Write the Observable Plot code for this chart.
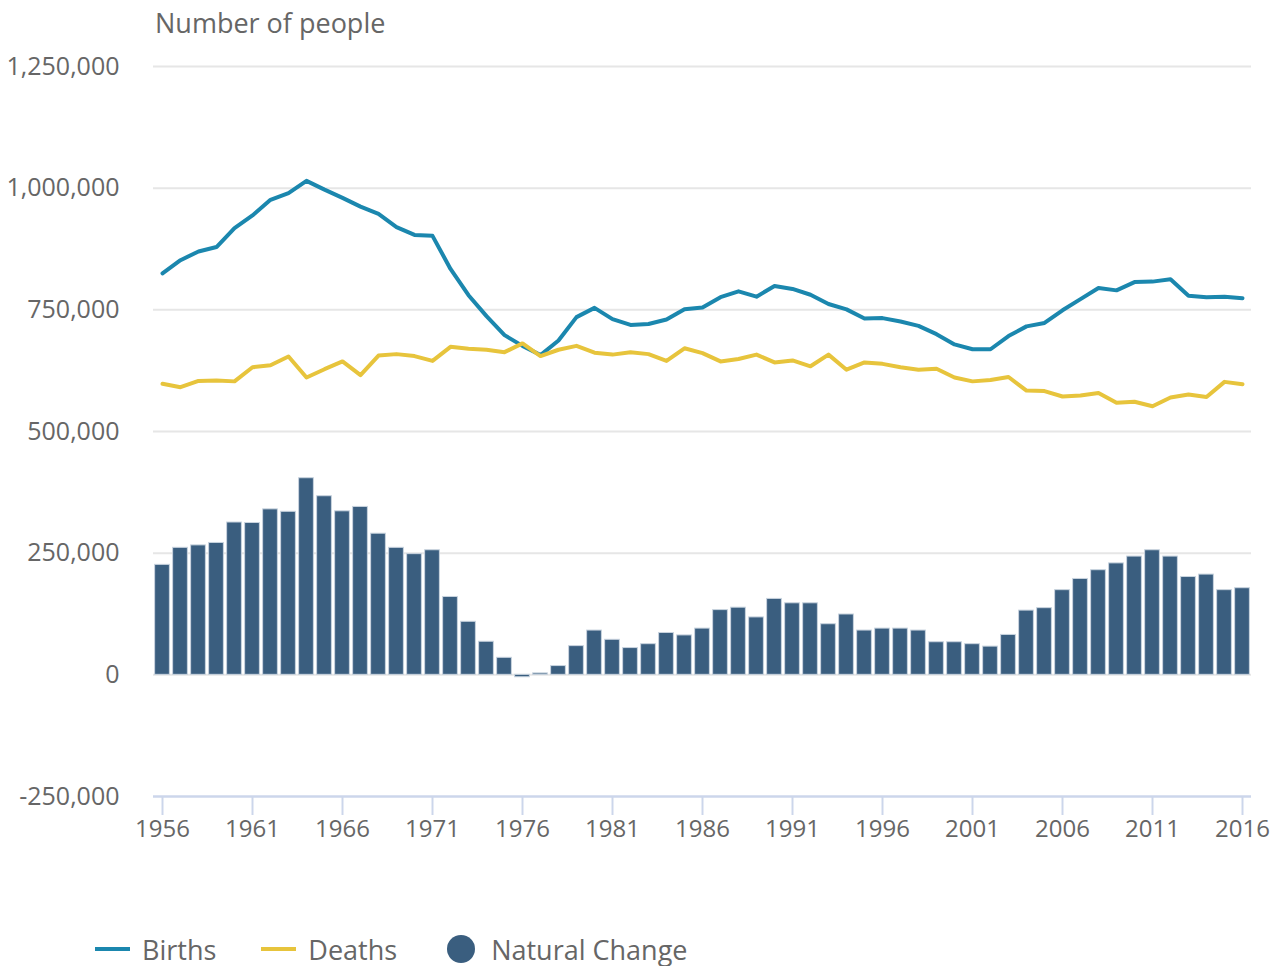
<!DOCTYPE html>
<html>
<head>
<meta charset="utf-8">
<script src="https://cdn.jsdelivr.net/npm/d3@7"></script>
<script src="https://cdn.jsdelivr.net/npm/@observablehq/plot@0.6"></script>
<style>
  html, body { margin: 0; padding: 0; background: #fff; }
  body { font-family: "Open Sans", sans-serif; color: #666; }
  #wrap { position: relative; width: 1275px; height: 966px; overflow: hidden; }
  #title { position: absolute; left: 155px; top: 4px; font-size: 27px; color: #666; line-height: 38px; }
  #legend { position: absolute; left: 95px; top: 929px; height: 40px; display: flex; align-items: center; font-size: 27px; color: #666; }
  .item { display: flex; align-items: center; }
  .sw { width: 35px; height: 4px; margin-right: 12px; }
  .dot { width: 28px; height: 28px; border-radius: 50%; margin-right: 16px; }
</style>
</head>
<body>
<div id="wrap">
  <div id="chart"></div>
  <div id="title">Number of people</div>
  <div id="legend"></div>
</div>
<script>
const years = [1956,1957,1958,1959,1960,1961,1962,1963,1964,1965,1966,1967,1968,1969,1970,
  1971,1972,1973,1974,1975,1976,1977,1978,1979,1980,1981,1982,1983,1984,1985,
  1986,1987,1988,1989,1990,1991,1992,1993,1994,1995,1996,1997,1998,1999,2000,
  2001,2002,2003,2004,2005,2006,2007,2008,2009,2010,2011,2012,2013,2014,2015,2016];

const births = [825000,852000,870000,879000,918000,944000,976000,990000,1015000,997000,980000,962000,947000,920000,904000,
  902000,834000,780000,737000,698000,676000,657000,687000,735000,754000,731000,719000,721000,730000,751000,
  755000,776000,788000,777000,799000,793000,781000,762000,751000,732000,733000,726000,717000,700000,679000,
  669000,669000,696000,716000,723000,749000,772000,795000,790000,807000,808000,813000,779000,776000,777000,774000];

const deaths = [598000,591000,604000,605000,603000,632000,636000,654000,611000,628000,644000,616000,656000,659000,655000,
  645000,674000,670000,668000,663000,681000,655000,668000,676000,662000,658000,663000,659000,645000,671000,
  661000,644000,649000,658000,642000,646000,634000,658000,627000,642000,639000,632000,627000,629000,611000,
  603000,606000,612000,584000,583000,572000,574000,579000,559000,561000,552000,570000,576000,571000,602000,597000];

const naturalChange = [226000,261000,266000,271000,313000,312000,340000,335000,404000,367000,336000,345000,290000,261000,248000,
  256000,160000,109000,68000,35000,-5000,3000,18000,59000,91000,72000,55000,63000,86000,81000,
  95000,133000,138000,118000,156000,147000,147000,104000,124000,91000,95000,95000,91000,67000,67000,
  63000,58000,82000,132000,137000,174000,197000,215000,229000,243000,256000,243000,201000,206000,174000,178000];

const xTicks = [1956,1961,1966,1971,1976,1981,1986,1991,1996,2001,2006,2011,2016];
const yTicks = [-250000,0,250000,500000,750000,1000000,1250000];

const seriesNames = ["Births", "Deaths", "Natural Change"];
const seriesColors = ["#1b87ae", "#e7c43c", "#3a5e7f"];

const data = years.map((year, i) => ({year, births: births[i], deaths: deaths[i], natural: naturalChange[i]}));

const fmt = d => (d < 0 ? "-" : "") + Math.abs(d).toLocaleString("en-US");

const chart = Plot.plot({
  width: 1275,
  height: 930,
  marginLeft: 153,
  marginRight: 24,
  marginTop: 66,
  marginBottom: 134,
  style: {fontFamily: "Open Sans, sans-serif", fontSize: "24px", color: "#666", background: "transparent", overflow: "visible"},
  x: {domain: [1955.5, 2016.5]},
  y: {domain: [-250000, 1250000]},
  marks: [
    Plot.gridY(yTicks.filter(t => t > -250000), {stroke: "#e6e6e6", strokeOpacity: 1, strokeWidth: 2}),
    Plot.axisY(yTicks, {tickSize: 0, tickPadding: 34, tickFormat: fmt, fill: "#666", fontSize: 25, label: null}),
    Plot.ruleY([-250000], {stroke: "#ccd6eb", strokeWidth: 2.5}),
    Plot.axisX(xTicks, {tickSize: 19, tickPadding: 4, stroke: "#ccd6eb", strokeWidth: 2, fill: "#666", fontSize: 24, tickFormat: d => String(d), label: null}),
    Plot.rect(data, {x1: d => d.year - 0.41, x2: d => d.year + 0.41, y1: d => 0, y2: "natural", fill: seriesColors[2], stroke: "#c9d4df", strokeWidth: 1}),
    Plot.line(data, {x: "year", y: "births", stroke: seriesColors[0], strokeWidth: 4}),
    Plot.line(data, {x: "year", y: "deaths", stroke: seriesColors[1], strokeWidth: 4})
  ]
});
document.getElementById("chart").appendChild(chart);

const legend = document.getElementById("legend");
const gaps = [45, 50, 0];
seriesNames.forEach((name, i) => {
  const item = document.createElement("div");
  item.className = "item";
  item.style.marginRight = gaps[i] + "px";
  const sw = document.createElement("div");
  sw.className = i < 2 ? "sw" : "dot";
  sw.style.background = seriesColors[i];
  const label = document.createElement("span");
  label.textContent = name;
  item.appendChild(sw);
  item.appendChild(label);
  legend.appendChild(item);
});
</script>
</body>
</html>
